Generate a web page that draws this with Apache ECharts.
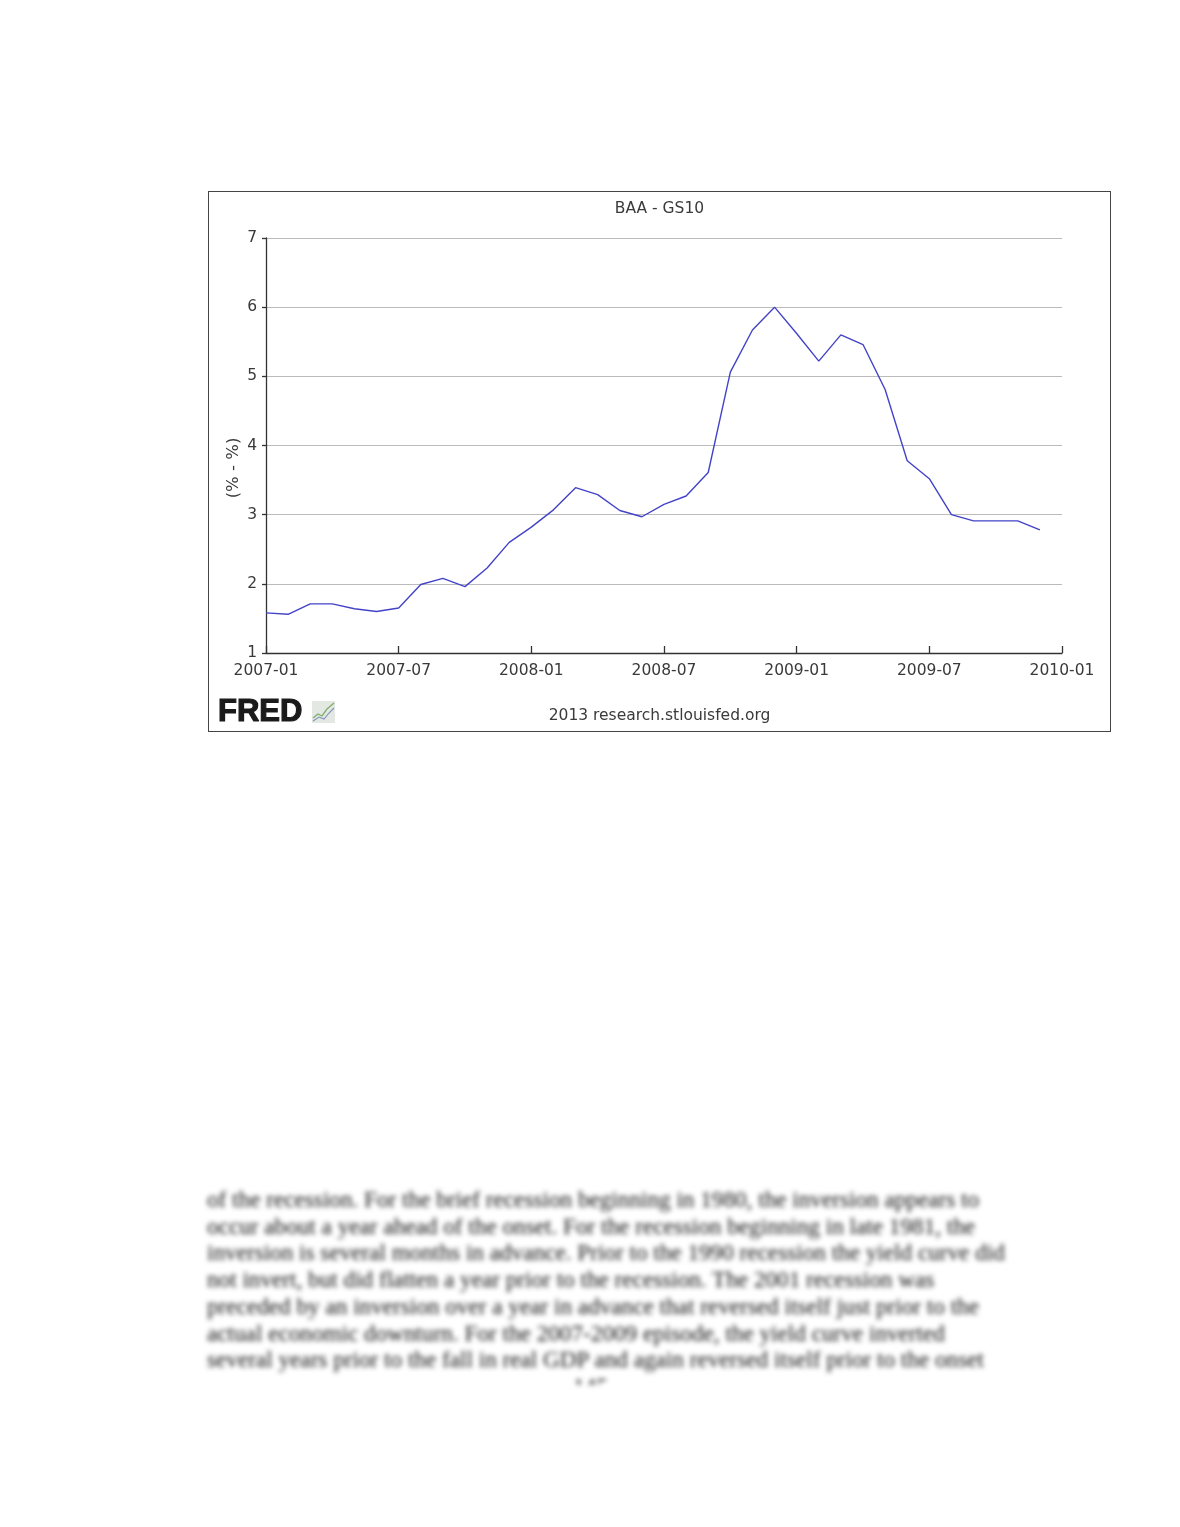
<!DOCTYPE html>
<html>
<head>
<meta charset="utf-8">
<script src="https://cdn.jsdelivr.net/npm/echarts@6/dist/echarts.min.js"></script>
<style>
  html, body { margin: 0; padding: 0; background: #fff; width: 1180px; height: 1527px; overflow: hidden; }
  #chart { position: absolute; left: 208px; top: 191px; width: 901px; height: 539px; border: 1px solid #444; background: #fff; }
  #para {
    position: absolute; left: 207px; top: 1186px; width: 830px; height: 199px; overflow: hidden;
    font-family: "Liberation Serif", serif; font-size: 23.2px; line-height: 26.7px; color: #111;
    white-space: nowrap; filter: blur(2.8px);
  }
</style>
</head>
<body>
<div id="chart"></div>
<div id="para">of the recession. For the brief recession beginning in 1980, the inversion appears to<br>
occur about a year ahead of the onset. For the recession beginning in late 1981, the<br>
inversion is several months in advance. Prior to the 1990 recession the yield curve did<br>
not invert, but did flatten a year prior to the recession. The 2001 recession was<br>
preceded by an inversion over a year in advance that reversed itself just prior to the<br>
actual economic downturn. For the 2007-2009 episode, the yield curve inverted<br>
several years prior to the fall in real GDP and again reversed itself prior to the onset<br>
<span style="padding-left:366px">145</span></div>
<script>
// monthly categories, 2007-01 .. 2010-01
const months = [
  '2007-01','2007-02','2007-03','2007-04','2007-05','2007-06','2007-07','2007-08','2007-09','2007-10','2007-11','2007-12',
  '2008-01','2008-02','2008-03','2008-04','2008-05','2008-06','2008-07','2008-08','2008-09','2008-10','2008-11','2008-12',
  '2009-01','2009-02','2009-03','2009-04','2009-05','2009-06','2009-07','2009-08','2009-09','2009-10','2009-11','2009-12',
  '2010-01'
];
// BAA - GS10 spread (%)
const spread = [
  1.58, 1.56, 1.71, 1.71, 1.64, 1.60, 1.65, 1.99, 2.08, 1.96, 2.23, 2.60,
  2.82, 3.07, 3.39, 3.29, 3.06, 2.97, 3.15, 3.27, 3.61, 5.06, 5.67, 6.00,
  5.62, 5.22, 5.60, 5.46, 4.81, 3.78, 3.52, 3.00, 2.91, 2.91, 2.91, 2.78
];
const yTicks = [1, 2, 3, 4, 5, 6, 7];

const chart = echarts.init(document.getElementById('chart'));
const font = 'DejaVu Sans';
const txt = '#3a3a3a';
chart.setOption({
  animation: false,
  title: {
    text: 'BAA - GS10', left: 'center', top: 4,
    textStyle: { fontFamily: font, fontSize: 15.5, fontWeight: 'normal', color: txt }
  },
  grid: { left: 57, right: 48, top: 46, bottom: 78 },
  xAxis: {
    type: 'category', data: months, boundaryGap: false,
    axisLine: { lineStyle: { color: '#333', width: 1.3 } },
    axisTick: { inside: true, length: 7, interval: 5, lineStyle: { color: '#333', width: 1.3 } },
    axisLabel: { interval: 5, margin: 10, fontFamily: font, fontSize: 15.5, color: txt },
    splitLine: { show: false }
  },
  yAxis: {
    type: 'value', min: yTicks[0], max: yTicks[yTicks.length - 1], interval: 1,
    axisLine: { show: true, lineStyle: { color: '#333', width: 1.3 } },
    axisTick: { show: true, length: 4, lineStyle: { color: '#333', width: 1.3 } },
    axisLabel: { margin: 9, fontFamily: font, fontSize: 15.5, color: txt },
    splitLine: { lineStyle: { color: '#bbb', width: 1.2 } }
  },
  graphic: [
    { type: 'text', x: 25, y: 276, rotation: Math.PI / 2,
      style: { text: '(% - %)', fontFamily: font, fontSize: 16.5, fill: txt, align: 'center', verticalAlign: 'middle' } },
    { type: 'text', left: 'center', top: 516, x: 7,
      style: { text: '2013 research.stlouisfed.org', fontFamily: font, fontSize: 15.5, fill: txt } },
    { type: 'text', x: 9, y: 505,
      style: { text: 'FRED', fontFamily: 'Liberation Sans', fontWeight: 'bold', fontSize: 31, fill: '#1a1a1a',
               stroke: '#1a1a1a', lineWidth: 1.2 } },
    { type: 'rect', x: 103, y: 509, shape: { width: 23, height: 22 }, style: { fill: '#e4e8e2' } },
    { type: 'polyline', shape: { points: [[104, 526], [109, 522], [113, 524], [118, 517], [125, 511]] },
      style: { stroke: '#7fae6e', lineWidth: 1.3, fill: null } },
    { type: 'polyline', shape: { points: [[104, 529], [110, 525], [115, 527], [120, 521], [125, 516]] },
      style: { stroke: '#7c93b8', lineWidth: 1.1, fill: null } }
  ],
  series: [{
    type: 'line', data: spread, showSymbol: false,
    lineStyle: { color: '#4343c8', width: 1.4 }
  }]
});
</script>
</body>
</html>
